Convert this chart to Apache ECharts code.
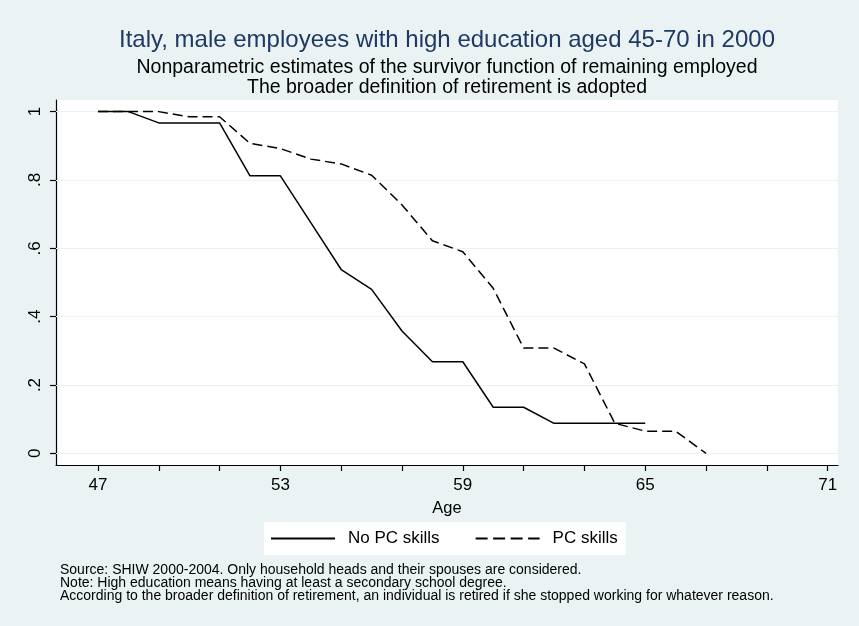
<!DOCTYPE html>
<html>
<head>
<meta charset="utf-8">
<script src="https://cdn.jsdelivr.net/npm/echarts@6/dist/echarts.min.js"></script>
<style>
  html, body { margin: 0; padding: 0; background: #eaf2f3; }
  #chart { width: 859px; height: 626px; }
</style>
</head>
<body>
<div id="chart"></div>
<script>
// Survivor function of remaining employed, by age
const ages = [47, 48, 49, 50, 51, 52, 53, 54, 55, 56, 57, 58, 59, 60, 61, 62, 63, 64, 65, 66, 67];
const noPcSkills = [1, 1, 0.967, 0.967, 0.967, 0.812, 0.812, 0.675, 0.538, 0.48, 0.358, 0.268, 0.268, 0.135, 0.135, 0.088, 0.088, 0.088, 0.088, null, null];
const pcSkills = [1, 1, 1, 0.985, 0.985, 0.907, 0.892, 0.861, 0.847, 0.814, 0.727, 0.622, 0.59, 0.483, 0.308, 0.308, 0.262, 0.088, 0.065, 0.065, 0];

const xLabelTicks = [47, 53, 59, 65, 71];
const xMinorTicks = [47, 49, 51, 53, 55, 57, 59, 61, 63, 65, 67, 69, 71];
const yTicks = [0, 0.2, 0.4, 0.6, 0.8, 1];

const titleText = 'Italy, male employees with high education aged 45-70 in 2000';
const subtitleLines = [
  'Nonparametric estimates of the survivor function of remaining employed',
  'The broader definition of retirement is adopted'
];
const noteLines = [
  'Source: SHIW 2000-2004. Only household heads and their spouses are considered.',
  'Note: High education means having at least a secondary school degree.',
  'According to the broader definition of retirement, an individual is retired if she stopped working for whatever reason.'
];

const FONT = 'Liberation Sans, Arial, sans-serif';
const pair = (ys) => ages.map((a, i) => [a, ys[i]]);

const chart = echarts.init(document.getElementById('chart'), null, { renderer: 'canvas' });
chart.setOption({
  backgroundColor: '#eaf2f3',
  animation: false,
  title: [
    { text: titleText, left: 447, top: 28, textAlign: 'center', padding: 0,
      textStyle: { fontFamily: FONT, fontSize: 24, fontWeight: 'normal', color: '#1e3a63' } },
    { text: subtitleLines.join('\n'), left: 447, top: 58, textAlign: 'center', padding: 0,
      textStyle: { fontFamily: FONT, fontSize: 19.5, fontWeight: 'normal', color: '#000', lineHeight: 20 } },
    { text: noteLines.join('\n'), left: 60, top: 564, padding: 0,
      textStyle: { fontFamily: FONT, fontSize: 14, fontWeight: 'normal', color: '#000', lineHeight: 13 } }
  ],
  grid: { left: 56, right: 21, top: 100, bottom: 161, show: true, backgroundColor: '#fff', borderWidth: 0 },
  legend: {
    top: 522, left: 264, width: 366, height: 30,
    backgroundColor: '#fff', padding: [8, 8, 8, 6],
    itemWidth: 64, itemHeight: 14, itemGap: 35,
    itemStyle: { opacity: 0 },
    textStyle: { fontFamily: FONT, fontSize: 17, color: '#000', padding: [0, 0, 0, 8] },
    data: [
      { name: 'No PC skills' },
      { name: 'PC skills', lineStyle: { type: [12, 5.5] } }
    ]
  },
  xAxis: {
    type: 'value', min: 45.62, max: 71.34,
    name: 'Age', nameLocation: 'middle', nameGap: 35,
    nameTextStyle: { fontFamily: FONT, fontSize: 16.5, color: '#000' },
    axisLine: { show: true, onZero: false, lineStyle: { color: '#000', width: 1.2 } },
    axisTick: { show: true, length: 6, customValues: xMinorTicks, lineStyle: { color: '#000', width: 1.2 } },
    axisLabel: { customValues: xLabelTicks, margin: 12, fontFamily: FONT, fontSize: 17, color: '#000' },
    splitLine: { show: false }
  },
  yAxis: {
    type: 'value', min: -0.034, max: 1.034,
    axisLine: { show: true, lineStyle: { color: '#000', width: 1.2 } },
    axisTick: { show: true, length: 6, customValues: yTicks, lineStyle: { color: '#000', width: 1.2 } },
    axisLabel: {
      customValues: yTicks, rotate: 90, margin: 12, fontFamily: FONT, fontSize: 17, color: '#000',
      formatter: (v) => v === 0 ? '0' : v === 1 ? '1' : String(Math.round(v * 10) / 10).replace(/^0/, '')
    },
    splitLine: { show: false }
  },
  series: [
    { name: 'No PC skills', type: 'line', data: pair(noPcSkills), symbol: 'none', z: 3,
      lineStyle: { color: '#000', width: 1.5, type: 'solid' }, itemStyle: { color: '#000' } },
    { name: 'PC skills', type: 'line', data: pair(pcSkills), symbol: 'none', z: 3,
      lineStyle: { color: '#000', width: 1.5, type: [10, 5] }, itemStyle: { color: '#000' } },
    // horizontal reference lines at the labelled y values
    { type: 'line', data: [], silent: true, z: 1,
      markLine: { silent: true, z: 1, symbol: 'none', label: { show: false },
        lineStyle: { color: '#eaf2f3', width: 1.2, type: 'solid' },
        data: yTicks.map(v => ({ yAxis: v })) } }
  ]
});
</script>
</body>
</html>
